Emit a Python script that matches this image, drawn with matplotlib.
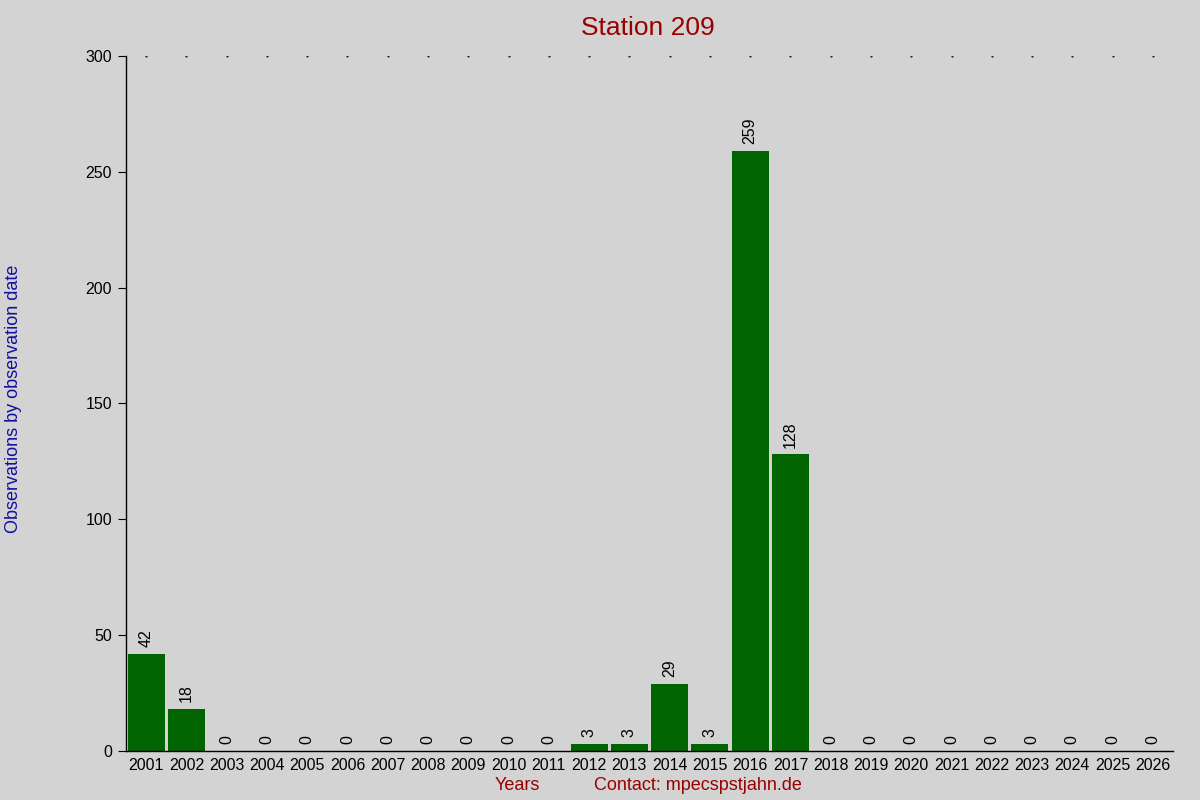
import matplotlib
matplotlib.use("Agg")
import matplotlib.pyplot as plt
import numpy as np

years = [str(y) for y in range(2001, 2027)]
counts = [42, 18, 0, 0, 0, 0, 0, 0, 0, 0, 0, 3, 3, 29, 3, 259, 128,
          0, 0, 0, 0, 0, 0, 0, 0, 0]
yticks = [0, 50, 100, 150, 200, 250, 300]

plt.rcParams['font.family'] = ['Liberation Sans', 'DejaVu Sans']

bg = '#d3d3d3'
fig = plt.figure(figsize=(12, 8), dpi=100, facecolor=bg)
ax = fig.add_axes([0.105, 0.06125, 0.8725, 0.86875], facecolor=bg)

x = np.arange(len(years))
ax.bar(x, counts, width=0.92, color='#006400', zorder=2)

# tiny dots along the top of the plot area
ax.plot(x, [300] * len(x), linestyle='none', marker='.', markersize=1.0, color='black')

for xi, v in zip(x, counts):
    ax.text(xi, v + 3, str(v), rotation=90, ha='center', va='bottom', fontsize=11.5, color='black')

ax.set_xlim(-0.5, len(years) - 0.5)
ax.set_ylim(0, 300)
ax.set_yticks(yticks)
ax.set_yticklabels([str(t) for t in yticks], fontsize=11.5)
ax.set_xticks(x)
ax.set_xticklabels(years, fontsize=11.5)
ax.tick_params(axis='x', length=0, pad=5)
ax.tick_params(axis='y', length=6, direction='out', pad=4)

for s in ['top', 'right']:
    ax.spines[s].set_visible(False)
ax.spines['left'].set_linewidth(1)
ax.spines['bottom'].set_linewidth(1)

fig.text(0.54, 0.965, 'Station 209', ha='center', va='center', fontsize=19, color='#990000')
fig.text(0.431, 0.018, 'Years', ha='center', va='center', fontsize=13, color='#990000')
fig.text(0.582, 0.018, 'Contact: mpecspstjahn.de', ha='center', va='center', fontsize=13, color='#990000')
fig.text(0.011, 0.502, 'Observations by observation date', rotation=90, ha='center', va='center',
         fontsize=13, color='#1010a0')

fig.savefig('out.png', dpi=100, facecolor=bg)
